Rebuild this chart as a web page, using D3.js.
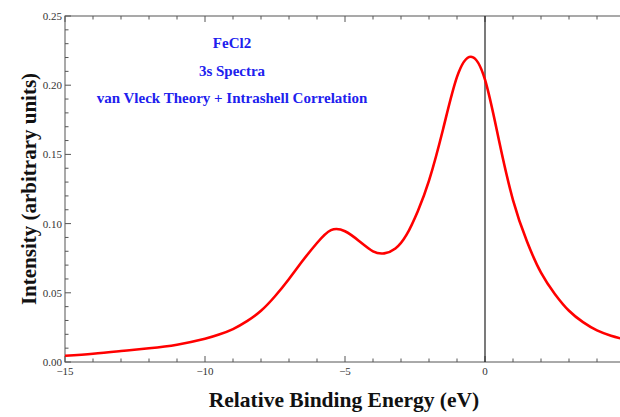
<!DOCTYPE html>
<html>
<head>
<meta charset="utf-8">
<script src="https://d3js.org/d3.v7.min.js"></script>
<style>
  body { margin: 0; background: #fff; }
  text { font-family: "Liberation Serif", "DejaVu Serif", serif; }
</style>
</head>
<body>
<div id="chart"></div>
<script>
// energy (eV) and intensity
var energy = [-15, -14, -13, -12, -11, -10, -9.5, -9, -8.5, -8, -7.5, -7, -6.5, -6, -5.5, -5, -4.5, -4, -3.6, -3.2, -2.8, -2.4, -2, -1.5, -1, -0.5, 0, 0.5, 1, 1.5, 2, 2.5, 3, 3.5, 4, 4.5, 5];
var intensity = [0.0045, 0.0060, 0.0079, 0.0099, 0.0125, 0.0168, 0.0198, 0.0238, 0.0295, 0.037, 0.0475, 0.060, 0.0735, 0.086, 0.0953, 0.0945, 0.0875, 0.080, 0.0785, 0.082, 0.092, 0.109, 0.131, 0.168, 0.206, 0.2206, 0.204, 0.160, 0.117, 0.087, 0.0645, 0.049, 0.037, 0.0288, 0.0228, 0.019, 0.0162];
var xMajor = [-15, -10, -5, 0];
var yMajor = [0, 0.05, 0.10, 0.15, 0.20, 0.25];
var titleLines = ["FeCl2", "3s Spectra", "van Vleck Theory + Intrashell Correlation"];

var W = 620, H = 417;
var padLeft = 65, padTop = 16, padBottom = 362;

var svg = d3.select("#chart").append("svg")
    .attr("width", W).attr("height", H);

var x = d3.scaleLinear().domain([-15, 5]).range([padLeft, padLeft + 20 * 28]);
var y = d3.scaleLinear().domain([0, 0.25]).range([padBottom, padTop]);

var data = energy.map(function(e, i) { return {e: e, v: intensity[i]}; });

// frame
var frameColor = "#555";
svg.append("rect")
    .attr("x", x(-15)).attr("y", y(0.25))
    .attr("width", x(5) - x(-15)).attr("height", y(0) - y(0.25))
    .attr("fill", "none").attr("stroke", frameColor).attr("stroke-width", 1);

// x ticks (bottom and top, inward)
var xMinor = d3.range(-15, 6, 1);
xMinor.forEach(function(t) {
  var len = xMajor.indexOf(t) >= 0 ? 6 : 3.5;
  svg.append("line").attr("x1", x(t)).attr("x2", x(t))
      .attr("y1", y(0)).attr("y2", y(0) - len)
      .attr("stroke", frameColor);
  svg.append("line").attr("x1", x(t)).attr("x2", x(t))
      .attr("y1", y(0.25)).attr("y2", y(0.25) + len)
      .attr("stroke", frameColor);
});
svg.selectAll(".xl").data(xMajor).enter().append("text")
    .attr("x", function(d) { return x(d); })
    .attr("y", padBottom + 13)
    .attr("text-anchor", "middle")
    .attr("font-size", 11)
    .attr("fill", "#333")
    .text(function(d) { return d < 0 ? "\u2212" + (-d) : d; });

// y ticks
var yMinor = d3.range(0, 0.2501, 0.01);
yMinor.forEach(function(t) {
  var major = Math.abs(Math.round(t * 100) % 5) === 0;
  var len = major ? 6 : 3.5;
  svg.append("line").attr("x1", padLeft).attr("x2", padLeft + len)
      .attr("y1", y(t)).attr("y2", y(t))
      .attr("stroke", frameColor);
});
svg.selectAll(".yl").data(yMajor).enter().append("text")
    .attr("x", padLeft - 3)
    .attr("y", function(d) { return y(d) + 4; })
    .attr("text-anchor", "end")
    .attr("font-size", 11)
    .attr("fill", "#333")
    .text(function(d) { return d3.format(".2f")(d); });

// vertical line at 0
svg.append("line")
    .attr("x1", x(0)).attr("x2", x(0))
    .attr("y1", y(0.25)).attr("y2", y(0))
    .attr("stroke", "#222").attr("stroke-width", 1.2);

// curve
svg.append("path")
    .datum(data)
    .attr("fill", "none")
    .attr("stroke", "#ff0000")
    .attr("stroke-width", 2.6)
    .attr("d", d3.line()
        .curve(d3.curveNatural)
        .x(function(d) { return x(d.e); })
        .y(function(d) { return y(d.v); }));

// title text
var ty = [48, 76, 103];
titleLines.forEach(function(t, i) {
  svg.append("text")
      .attr("x", 232).attr("y", ty[i])
      .attr("text-anchor", "middle")
      .attr("font-size", 15)
      .attr("font-weight", "bold")
      .attr("fill", "#2020ee")
      .text(t);
});

// axis labels
svg.append("text")
    .attr("x", 344).attr("y", 407)
    .attr("text-anchor", "middle")
    .attr("font-size", 21.5)
    .attr("font-weight", "bold")
    .attr("fill", "#111")
    .text("Relative Binding Energy (eV)");

svg.append("text")
    .attr("transform", "translate(36," + ((padTop + padBottom) / 2) + ") rotate(-90)")
    .attr("text-anchor", "middle")
    .attr("font-size", 21)
    .attr("font-weight", "bold")
    .attr("fill", "#111")
    .text("Intensity (arbitrary units)");
</script>
</body>
</html>
